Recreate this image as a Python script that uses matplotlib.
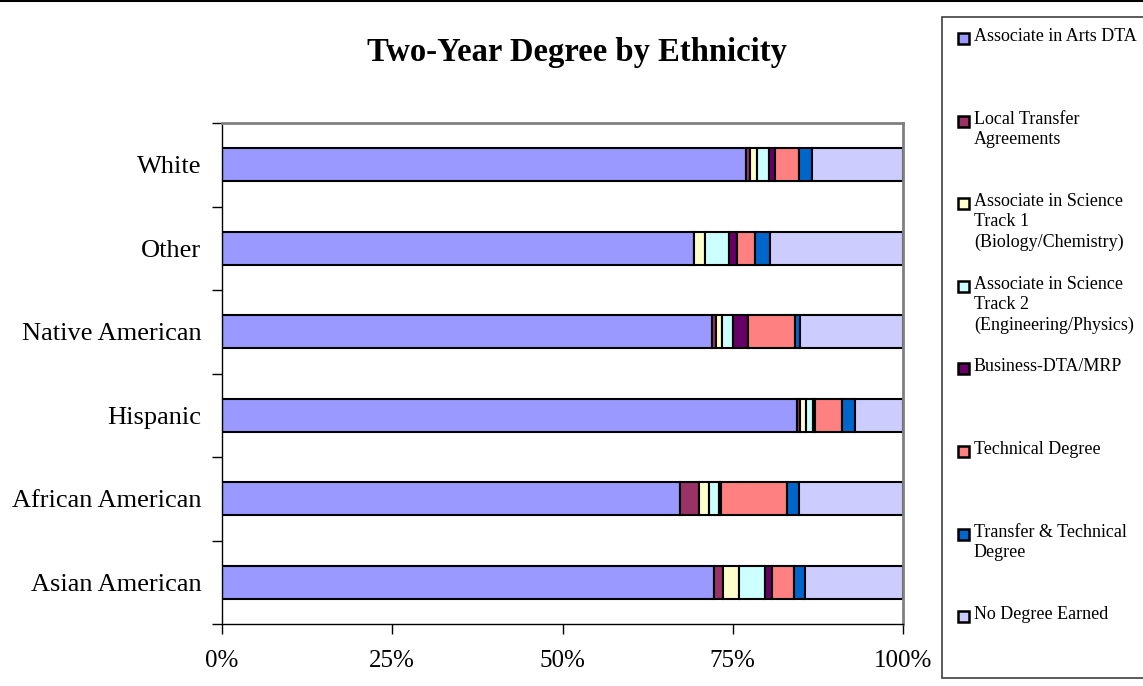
import numpy as np
import matplotlib.pyplot as plt
from matplotlib.patches import Rectangle
from matplotlib.lines import Line2D

# categories (bottom -> top)
groups = ["Asian American", "African American", "Hispanic", "Native American", "Other", "White"]

# series (percent of each group)
assoc_arts = [72.3, 67.2, 84.4, 72.0, 69.3, 76.9]
local_transfer = [1.3, 2.8, 0.5, 0.6, 0.0, 0.6]
sci_track1 = [2.3, 1.5, 0.9, 0.8, 1.6, 1.1]
sci_track2 = [3.9, 1.5, 1.0, 1.7, 3.5, 1.7]
business = [1.0, 0.3, 0.3, 2.2, 1.2, 0.9]
technical = [3.2, 9.6, 3.9, 6.9, 2.7, 3.5]
transfer_tech = [1.6, 1.8, 2.0, 0.7, 2.2, 2.0]
no_degree = [14.4, 15.3, 7.0, 15.1, 19.5, 13.3]

series_names = ["Associate in Arts DTA", "Local Transfer\nAgreements",
                "Associate in Science\nTrack 1\n(Biology/Chemistry)",
                "Associate in Science\nTrack 2\n(Engineering/Physics)",
                "Business-DTA/MRP", "Technical Degree",
                "Transfer & Technical\nDegree", "No Degree Earned"]
colors = ["#9999FF", "#993366", "#FFFFCC", "#CCFFFF", "#660066", "#FF8080", "#0066CC", "#CCCCFF"]

series = [assoc_arts, local_transfer, sci_track1, sci_track2, business, technical, transfer_tech, no_degree]

plt.rcParams['font.family'] = ['Liberation Serif', 'DejaVu Serif']

fig = plt.figure(figsize=(11.43, 6.86), dpi=100)
ax = fig.add_axes([222/1143, 62/686, 681/1143, 501/686])

y = np.arange(len(groups))
left = np.zeros(len(groups))
for vals, col in zip(series, colors):
    vals = np.array(vals, dtype=float)
    ax.barh(y, vals, left=left, height=0.4, color=col, edgecolor="black", linewidth=1.5)
    left += vals

ax.set_xlim(0, 100)
ax.set_ylim(-0.5, len(groups) - 0.5)

ax.set_xticks([0, 25, 50, 75, 100])
ax.set_xticklabels(["0%", "25%", "50%", "75%", "100%"], fontsize=18)
ax.tick_params(axis="x", direction="out", length=7, width=1, pad=12, colors="black")

ax.set_yticks(np.arange(-0.5, len(groups), 1.0))
ax.set_yticklabels([])
ax.set_yticks(y, minor=True)
ax.set_yticklabels(groups, minor=True, fontsize=19)
ax.tick_params(axis="y", which="major", direction="out", length=7, width=1)
ax.tick_params(axis="y", which="minor", length=0, pad=15)

for s in ["top", "right"]:
    ax.spines[s].set_color("#808080")
    ax.spines[s].set_linewidth(2)
for s in ["left", "bottom"]:
    ax.spines[s].set_color("black")
    ax.spines[s].set_linewidth(1)

# title
fig.text(577/1143, 1 - 52/686, "Two-Year Degree by Ethnicity", ha="center", va="center",
         fontsize=23.5, fontweight="bold")

# outer chart border
fig.add_artist(Line2D([0, 1], [1 - 1/686, 1 - 1/686], color="black", lw=1.5))

# legend drawn by hand
fig.add_artist(Rectangle((942/1143, 1 - 678/686), 1, (678 - 17)/686, transform=fig.transFigure,
                         facecolor="white", edgecolor="#404040", lw=1.2))
for i, (name, col) in enumerate(zip(series_names, colors)):
    ytop = 38 + i * 82.6
    fig.add_artist(Rectangle((958/1143, 1 - (ytop + 6)/686), 11/1143, 11/686,
                             transform=fig.transFigure, facecolor=col, edgecolor="black", lw=1.8))
    fig.text(974/1143, 1 - (ytop - 10)/686, name, ha="left", va="top", fontsize=13,
             linespacing=1.25)

plt.savefig("out.png", dpi=100)
